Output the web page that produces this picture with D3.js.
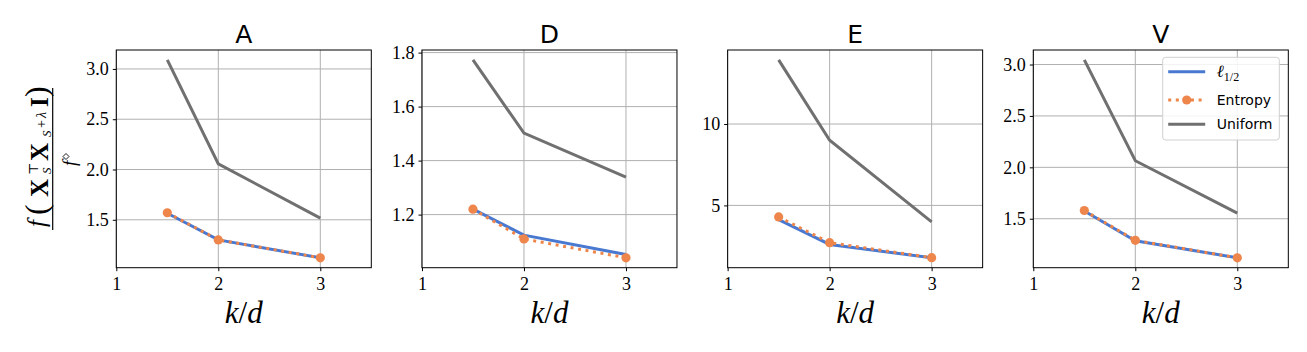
<!DOCTYPE html>
<html>
<head>
<meta charset="UTF-8">
<title>k/d panels</title>
<script src="https://cdn.jsdelivr.net/npm/d3@7"></script>
<style>
  body { margin: 0; background: #fff; }
  svg { display: block; }
</style>
</head>
<body>
<svg id="chart" width="1307" height="352" xmlns="http://www.w3.org/2000/svg"></svg>
<script>
// data
const kd = [1.5, 2, 3];
const panels = ["A", "D", "E", "V"];
const l12 = [
  [1.565, 1.30, 1.122],
  [1.22, 1.124, 1.052],
  [4.12, 2.60, 1.78],
  [1.575, 1.285, 1.12]
];
const entropy = [
  [1.57, 1.30, 1.122],
  [1.22, 1.11, 1.04],
  [4.29, 2.71, 1.79],
  [1.58, 1.29, 1.12]
];
const uniform = [
  [3.09, 2.056, 1.517],
  [1.773, 1.502, 1.339],
  [13.94, 9.0, 3.99],
  [3.045, 2.064, 1.555]
];
const xTicks = [1, 2, 3];
const yTicks = [
  [1.5, 2.0, 2.5, 3.0],
  [1.2, 1.4, 1.6, 1.8],
  [5, 10],
  [1.5, 2.0, 2.5, 3.0]
];
const yFormats = [".1f", ".1f", "d", ".1f"];
const legendNames = ["ℓ", "Entropy", "Uniform"];

const blue = "#4878d0", orange = "#ee854a", gray = "#707070";
const serif = "'Liberation Serif', 'DejaVu Serif', serif";

const svg = d3.select("#chart");
const plotTop = 50, plotBottom = 267.7, w = 255, step = 305.67, left0 = 116.3;

panels.forEach((name, i) => {
  const x0 = left0 + i * step;
  const g = svg.append("g").attr("transform", `translate(${x0},0)`);

  const all = l12[i].concat(entropy[i], uniform[i]);
  const lo = d3.min(all), hi = d3.max(all), pad = (hi - lo) * 0.05;
  const x = d3.scaleLinear().domain([1, 3.5]).range([0, w]);
  const y = d3.scaleLinear().domain([lo - pad, hi + pad]).range([plotBottom, plotTop]);

  // grid
  g.append("g").selectAll("line").data(xTicks).join("line")
    .attr("x1", d => x(d)).attr("x2", d => x(d))
    .attr("y1", plotTop).attr("y2", plotBottom)
    .attr("stroke", "#b0b0b0").attr("stroke-width", 1);
  g.append("g").selectAll("line").data(yTicks[i]).join("line")
    .attr("x1", 0).attr("x2", w)
    .attr("y1", d => y(d)).attr("y2", d => y(d))
    .attr("stroke", "#b0b0b0").attr("stroke-width", 1);

  // axes
  const xa = g.append("g").attr("transform", `translate(0,${plotBottom})`)
    .call(d3.axisBottom(x).tickValues(xTicks).tickFormat(d3.format("d")).tickSize(3.5).tickPadding(4));
  const ya = g.append("g")
    .call(d3.axisLeft(y).tickValues(yTicks[i]).tickFormat(d3.format(yFormats[i])).tickSize(3.5).tickPadding(4));
  [xa, ya].forEach(a => {
    a.attr("font-family", serif).attr("font-size", 18);
    a.select(".domain").remove();
    a.selectAll(".tick line").attr("stroke", "#000").attr("stroke-width", 1);
    a.selectAll(".tick text").attr("fill", "#000");
  });
  xa.selectAll(".tick text").attr("dy", "0.8em");

  const line = d3.line().x((d, j) => x(kd[j])).y(d => y(d));

  g.append("path").datum(uniform[i]).attr("d", line)
    .attr("fill", "none").attr("stroke", gray).attr("stroke-width", 3);
  g.append("path").datum(l12[i]).attr("d", line)
    .attr("fill", "none").attr("stroke", blue).attr("stroke-width", 3);
  g.append("path").datum(entropy[i]).attr("d", line)
    .attr("fill", "none").attr("stroke", orange).attr("stroke-width", 3)
    .attr("stroke-dasharray", "3,4.6");
  g.selectAll("circle.m").data(entropy[i]).join("circle").attr("class", "m")
    .attr("cx", (d, j) => x(kd[j])).attr("cy", d => y(d)).attr("r", 4.6)
    .attr("fill", orange);

  // frame
  g.append("rect").attr("x", 0).attr("y", plotTop).attr("width", w).attr("height", plotBottom - plotTop)
    .attr("fill", "none").attr("stroke", "#000").attr("stroke-width", 1);

  // title
  g.append("text").attr("x", w / 2).attr("y", 43).attr("text-anchor", "middle")
    .attr("font-family", "'DejaVu Sans', sans-serif").attr("font-size", 25).text(name);

  // x label k/d
  const xl = g.append("text").attr("x", w / 2).attr("y", 323).attr("text-anchor", "middle")
    .attr("font-family", serif).attr("font-size", 31);
  xl.append("tspan").attr("font-style", "italic").text("k");
  xl.append("tspan").text("/");
  xl.append("tspan").attr("font-style", "italic").text("d");

  // legend in last panel
  if (i === panels.length - 1) {
    const lg = g.append("g").attr("transform", `translate(${1162.7 - x0},57.3)`);
    lg.append("rect").attr("width", 116.6).attr("height", 82.7).attr("rx", 3)
      .attr("fill", "#fff").attr("fill-opacity", 0.85).attr("stroke", "#d0d0d0");
    const rows = [14.4, 42.7, 67];
    const styles = [
      { c: blue, dash: null, m: false },
      { c: orange, dash: "3,4.6", m: true },
      { c: gray, dash: null, m: false }
    ];
    styles.forEach((s, k) => {
      lg.append("line").attr("x1", 5.5).attr("x2", 42.5).attr("y1", rows[k]).attr("y2", rows[k])
        .attr("stroke", s.c).attr("stroke-width", 3).attr("stroke-dasharray", s.dash);
      if (s.m) lg.append("circle").attr("cx", 24).attr("cy", rows[k]).attr("r", 4.6).attr("fill", s.c);
    });
    const t0 = lg.append("text").attr("x", 54).attr("y", 19.5)
      .attr("font-family", serif).attr("font-size", 17);
    t0.append("tspan").attr("font-style", "italic").text(legendNames[0]);
    t0.append("tspan").attr("font-size", 12).attr("dy", 4).text("1/2");
    [1, 2].forEach(k => {
      lg.append("text").attr("x", 54).attr("y", rows[k] + 4.8)
        .attr("font-family", "'DejaVu Sans', sans-serif").attr("font-size", 14).text(legendNames[k]);
    });
  }
});

// y label: fraction, rotated
const yl = svg.append("g").attr("transform", "translate(0,159) rotate(-90)");
const glyph = (t, lx, ly, size, opts = {}) => yl.append("text").attr("x", lx).attr("y", ly)
  .attr("font-family", serif).attr("font-size", size)
  .attr("font-style", opts.it ? "italic" : null).attr("font-weight", opts.b ? "bold" : null)
  .attr("text-anchor", opts.anchor || "start").text(t);
glyph("f", -68, 45, 25, { it: true });
glyph("(", -56, 47, 32);
glyph("X", -38, 48, 25, { b: true });
glyph("⊤", -16, 38, 13);
glyph("S", -15, 51, 13, { it: true });
glyph("X", -2, 48, 25, { b: true });
glyph("S", 22, 51, 13, { it: true });
glyph("+", 31, 46, 14);
glyph("λ", 41, 46, 14, { it: true });
glyph("I", 52, 48, 25, { b: true });
glyph(")", 62, 47, 32);
yl.append("line").attr("x1", -71).attr("x2", 71).attr("y1", 52.7).attr("y2", 52.7)
  .attr("stroke", "#000").attr("stroke-width", 1.2);
glyph("f", -7, 76, 19, { it: true });
// small diamond superscript on f
yl.append("path").attr("d", "M2.5,63 L5.5,66 L2.5,69 L-0.5,66 Z")
  .attr("fill", "none").attr("stroke", "#000").attr("stroke-width", 0.9);
</script>
</body>
</html>
